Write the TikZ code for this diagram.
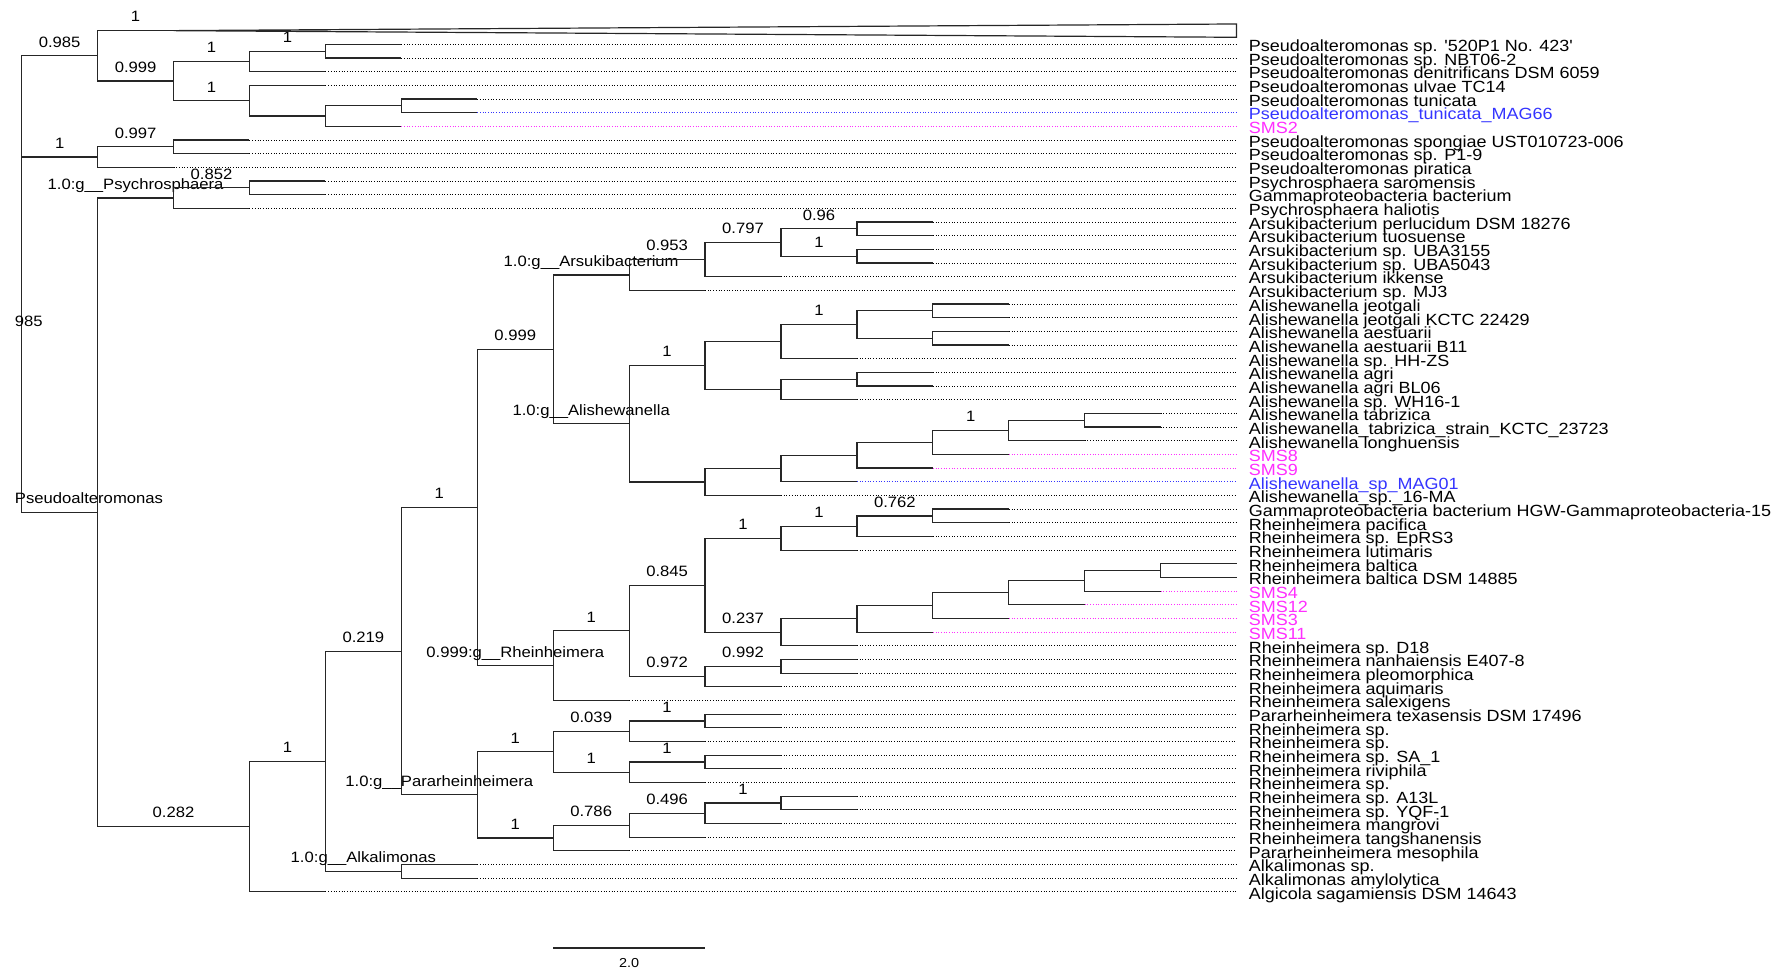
\documentclass[tikz,border=0pt]{standalone}
\usepackage{fontspec}
\setmainfont{Liberation Sans}
\newfontfamily\treefont[FakeStretch=1.11]{Liberation Sans}
\usepackage{tikz}
\definecolor{tipblue}{HTML}{3434FF}
\definecolor{tipmagenta}{HTML}{FF2EFF}

\begin{document}
\begin{tikzpicture}[
    x=37.965pt, y=-6.835pt,
    brline/.style={line width=0.6pt, draw=black!85},
    leafdots/.style={line width=0.45pt, dash pattern=on 0.5pt off 0.85pt},
    leaflab/.style={anchor=west, inner xsep=5.9pt, inner ysep=0pt, text height=7.6pt, text depth=0.3pt, font=\treefont\fontsize{8.1}{9}\selectfont},
    suplab/.style={anchor=base, yshift=4.33pt, inner sep=0pt, font=\treefont\fontsize{7.5}{9}\selectfont},
    scalelab/.style={anchor=base, yshift=-9.8pt, inner sep=0pt, font=\treefont\fontsize{6.5}{8}\selectfont}
  ]
    \useasboundingbox (-0.28579,-2.24067) rectangle (23.2491,68.791);

    \coordinate (nRoot) at (0,12.0436);
    \coordinate (nN1) at (1,1.84375);
    \coordinate (ntri) at (2,0);
    \coordinate (ntriA) at (16,-0.487);
    \coordinate (ntriB) at (16,0.487);
    \coordinate (nN2) at (2,3.6875);
    \coordinate (nA) at (3,2.25);
    \coordinate (n12) at (4,1.5);
    \coordinate (nB) at (3,5.125);
    \coordinate (nC) at (4,6.25);
    \coordinate (n56) at (5,5.5);
    \coordinate (nZ) at (0,22.2435);
    \coordinate (nM) at (1,9.25);
    \coordinate (n89) at (2,8.5);
    \coordinate (nP) at (1,35.237);
    \coordinate (nPsy) at (2,12.25);
    \coordinate (n1112) at (3,11.5);
    \coordinate (nQ) at (3,58.224);
    \coordinate (nR) at (4,53.448);
    \coordinate (nS) at (5,45.396);
    \coordinate (n6162) at (5,61.5);
    \coordinate (nT) at (6,34.8857);
    \coordinate (nW) at (7,23.3164);
    \coordinate (nX) at (8,17.875);
    \coordinate (nX1) at (9,16.75);
    \coordinate (nX1a) at (10,15.5);
    \coordinate (n1415) at (11,14.5);
    \coordinate (n1617) at (11,16.5);
    \coordinate (nY) at (8,28.7578);
    \coordinate (nY1) at (9,24.5);
    \coordinate (nY1a) at (10,22.75);
    \coordinate (nY1a1) at (11,21.5);
    \coordinate (n2021) at (12,20.5);
    \coordinate (n2223) at (12,22.5);
    \coordinate (nY1b) at (10,26.25);
    \coordinate (n2526) at (11,25.5);
    \coordinate (nY2) at (9,33.0156);
    \coordinate (nY2a) at (10,32.0313);
    \coordinate (nY2a1) at (11,31.0625);
    \coordinate (nY2a1a) at (12,30.125);
    \coordinate (nY2a1a1) at (13,29.25);
    \coordinate (n2829) at (14,28.5);
    \coordinate (nV) at (7,46.4551);
    \coordinate (nV1) at (8,43.9102);
    \coordinate (nV1a) at (9,40.5703);
    \coordinate (nV1a1) at (10,37.125);
    \coordinate (nV1a1a) at (11,36.25);
    \coordinate (n3536) at (12,35.5);
    \coordinate (nV1a2) at (10,44.0156);
    \coordinate (nV1a2a) at (11,43.0313);
    \coordinate (nV1a2a1) at (12,42.0625);
    \coordinate (nV1a2a1a) at (13,41.125);
    \coordinate (nV1a2a1a1) at (14,40.25);
    \coordinate (n3940) at (15,39.5);
    \coordinate (nV1b) at (9,47.25);
    \coordinate (n4647) at (10,46.5);
    \coordinate (nU) at (6,55.9063);
    \coordinate (nU1) at (7,52.75);
    \coordinate (nU1a) at (8,51.25);
    \coordinate (n5051) at (9,50.5);
    \coordinate (nU1b) at (8,54.25);
    \coordinate (n5354) at (9,53.5);
    \coordinate (nU2) at (7,59.0625);
    \coordinate (nU2a) at (8,58.125);
    \coordinate (nU2aa) at (9,57.25);
    \coordinate (n5657) at (10,56.5);

    \foreach \a/\b/\s in {nRoot/nN1/0.985, nRoot/nZ/, nN1/ntri/1, nN1/nN2/0.999,
        nN2/nA/1, nN2/nB/1, nA/n12/1, nB/nC/, nC/n56/,
        nZ/nM/1, nM/n89/0.997, nZ/nP/, nP/nPsy/{1.0:g\_\_Psychrosphaera},
        nPsy/n1112/0.852, nP/nQ/0.282, nQ/nR/1, nR/nS/0.219,
        nR/n6162/{1.0:g\_\_Alkalimonas}, nS/nT/1, nS/nU/{1.0:g\_\_Pararheinheimera},
        nT/nW/0.999, nT/nV/{0.999:g\_\_Rheinheimera},
        nW/nX/{1.0:g\_\_Arsukibacterium}, nW/nY/{1.0:g\_\_Alishewanella},
        nX/nX1/0.953, nX1/nX1a/0.797, nX1a/n1415/0.96, nX1a/n1617/1,
        nY/nY1/1, nY/nY2/, nY1/nY1a/, nY1/nY1b/, nY1a/nY1a1/1,
        nY1a1/n2021/, nY1a1/n2223/, nY1b/n2526/,
        nY2/nY2a/, nY2a/nY2a1/, nY2a1/nY2a1a/, nY2a1a/nY2a1a1/1, nY2a1a1/n2829/,
        nV/nV1/1, nV1/nV1a/0.845, nV1/nV1b/0.972, nV1a/nV1a1/1, nV1a/nV1a2/0.237,
        nV1a1/nV1a1a/1, nV1a1a/n3536/0.762, nV1a2/nV1a2a/, nV1a2a/nV1a2a1/,
        nV1a2a1/nV1a2a1a/, nV1a2a1a/nV1a2a1a1/, nV1a2a1a1/n3940/, nV1b/n4647/0.992,
        nU/nU1/1, nU/nU2/1, nU1/nU1a/0.039, nU1/nU1b/1, nU1a/n5051/1, nU1b/n5354/1,
        nU2/nU2a/0.786, nU2a/nU2aa/0.496, nU2aa/n5657/1}
      \draw[brline] (\a) |- node[suplab, pos=0.75] {\s} (\b);

    \draw[brline] (ntri) -- (ntriA) -- (ntriB) -- cycle;

    \foreach \i/\p/\c/\t/\col in {
        1/n12/5/{Pseudoalteromonas sp. '520P1 No. 423'}/black,
        2/n12/5/{Pseudoalteromonas sp. NBT06-2}/black,
        3/nA/4/{Pseudoalteromonas denitrificans DSM 6059}/black,
        4/nB/4/{Pseudoalteromonas ulvae TC14}/black,
        5/n56/6/{Pseudoalteromonas tunicata}/black,
        6/n56/6/{Pseudoalteromonas\_tunicata\_MAG66}/tipblue,
        7/nC/5/{SMS2}/tipmagenta,
        8/n89/3/{Pseudoalteromonas spongiae UST010723-006}/black,
        9/n89/3/{Pseudoalteromonas sp. P1-9}/black,
        10/nM/2/{Pseudoalteromonas piratica}/black,
        11/n1112/4/{Psychrosphaera saromensis}/black,
        12/n1112/4/{Gammaproteobacteria bacterium}/black,
        13/nPsy/3/{Psychrosphaera haliotis}/black,
        14/n1415/12/{Arsukibacterium perlucidum DSM 18276}/black,
        15/n1415/12/{Arsukibacterium tuosuense}/black,
        16/n1617/12/{Arsukibacterium sp. UBA3155}/black,
        17/n1617/12/{Arsukibacterium sp. UBA5043}/black,
        18/nX1/10/{Arsukibacterium ikkense}/black,
        19/nX/9/{Arsukibacterium sp. MJ3}/black,
        20/n2021/13/{Alishewanella jeotgali}/black,
        21/n2021/13/{Alishewanella jeotgali KCTC 22429}/black,
        22/n2223/13/{Alishewanella aestuarii}/black,
        23/n2223/13/{Alishewanella aestuarii B11}/black,
        24/nY1a/11/{Alishewanella sp. HH-ZS}/black,
        25/n2526/12/{Alishewanella agri}/black,
        26/n2526/12/{Alishewanella agri BL06}/black,
        27/nY1b/11/{Alishewanella sp. WH16-1}/black,
        28/n2829/15/{Alishewanella tabrizica}/black,
        29/n2829/15/{Alishewanella\_tabrizica\_strain\_KCTC\_23723}/black,
        30/nY2a1a1/14/{Alishewanella longhuensis}/black,
        31/nY2a1a/13/{SMS8}/tipmagenta,
        32/nY2a1/12/{SMS9}/tipmagenta,
        33/nY2a/11/{Alishewanella\_sp\_MAG01}/tipblue,
        34/nY2/10/{Alishewanella\_sp.\_16-MA}/black,
        35/n3536/13/{Gammaproteobacteria bacterium HGW-Gammaproteobacteria-15}/black,
        36/n3536/13/{Rheinheimera pacifica}/black,
        37/nV1a1a/12/{Rheinheimera sp. EpRS3}/black,
        38/nV1a1/11/{Rheinheimera lutimaris}/black,
        39/n3940/16/{Rheinheimera baltica}/black,
        40/n3940/16/{Rheinheimera baltica DSM 14885}/black,
        41/nV1a2a1a1/15/{SMS4}/tipmagenta,
        42/nV1a2a1a/14/{SMS12}/tipmagenta,
        43/nV1a2a1/13/{SMS3}/tipmagenta,
        44/nV1a2a/12/{SMS11}/tipmagenta,
        45/nV1a2/11/{Rheinheimera sp. D18}/black,
        46/n4647/11/{Rheinheimera nanhaiensis E407-8}/black,
        47/n4647/11/{Rheinheimera pleomorphica}/black,
        48/nV1b/10/{Rheinheimera aquimaris}/black,
        49/nV/8/{Rheinheimera salexigens}/black,
        50/n5051/10/{Pararheinheimera texasensis DSM 17496}/black,
        51/n5051/10/{Rheinheimera sp.}/black,
        52/nU1a/9/{Rheinheimera sp.}/black,
        53/n5354/10/{Rheinheimera sp. SA\_1}/black,
        54/n5354/10/{Rheinheimera riviphila}/black,
        55/nU1b/9/{Rheinheimera sp.}/black,
        56/n5657/11/{Rheinheimera sp. A13L}/black,
        57/n5657/11/{Rheinheimera sp. YQF-1}/black,
        58/nU2aa/10/{Rheinheimera mangrovi}/black,
        59/nU2a/9/{Rheinheimera tangshanensis}/black,
        60/nU2/8/{Pararheinheimera mesophila}/black,
        61/n6162/6/{Alkalimonas sp.}/black,
        62/n6162/6/{Alkalimonas amylolytica}/black,
        63/nQ/4/{Algicola sagamiensis DSM 14643}/black}
    {
      \coordinate (t\i) at (\c,\i);
      \node[leaflab, text=\col] (l\i) at (16,\i) {\t};
      \draw[brline] (\p) |- (t\i);
      \draw[leafdots, draw=\col] (t\i) -- (l\i.west);
    }

    \node[suplab, anchor=base west, xshift=-3.6pt] (lab985) at (nZ) {985};
    \node[suplab, anchor=base west, xshift=-3.6pt] (labPseudo) at (nZ |- nP) {Pseudoalteromonas};

    \coordinate (sbA) at (7,67.11);
    \coordinate (sbB) at (9,67.11);
    \draw[brline] (sbA) -- node[scalelab] {2.0} (sbB);
  \end{tikzpicture}
\end{document}
